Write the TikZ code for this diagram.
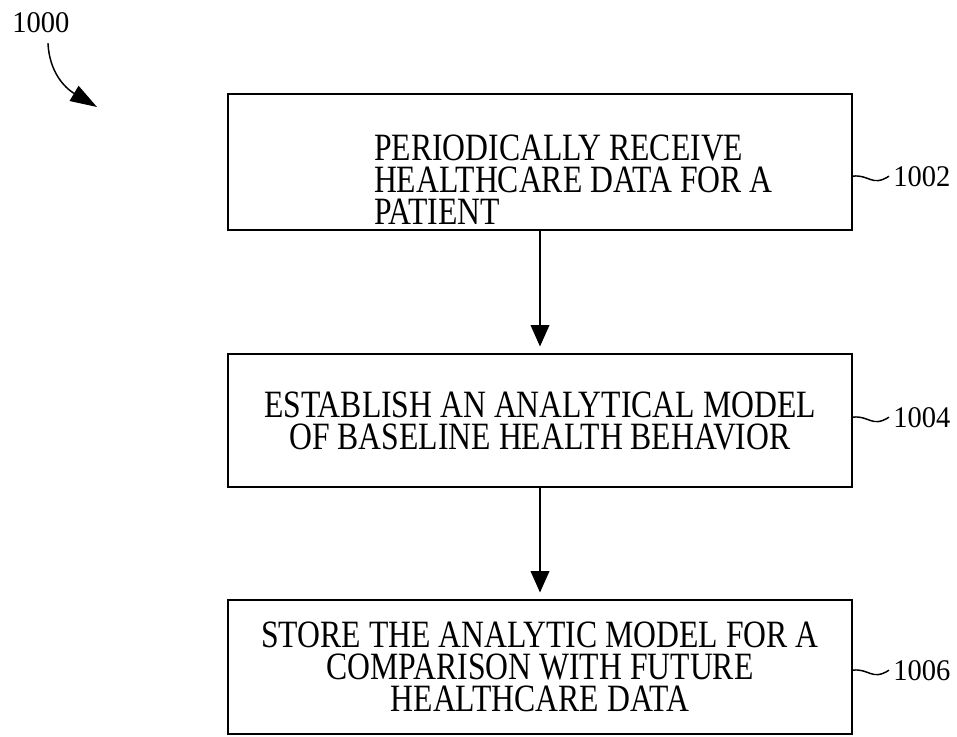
\documentclass[tikz,border=0pt]{standalone}
\usepackage{fontspec}
\setmainfont[FakeStretch=0.82]{Liberation Serif}
\newfontfamily\refnumfont[FakeStretch=0.95]{Liberation Serif}
\usetikzlibrary{arrows.meta,calc}
\usetikzlibrary{positioning}

\tikzset{
  stepbox/.style={draw, line width=1.3pt, minimum width=468pt, inner sep=0pt,
    font=\fontsize{29}{24}\selectfont},
  flow/.style={-{Triangle[length=16pt,width=14pt]}, line width=1.1pt, shorten >=5pt},
  leadarrow/.style={-{Triangle[length=20pt,width=13pt]}, line width=1.1pt, shorten <=8pt},
  refnum/.style={inner sep=0pt, anchor=base west, font=\refnumfont\fontsize{22.5}{24}\selectfont},
  tilde/.style={line width=1.1pt}
}

\begin{document}
\begin{tikzpicture}[x=0.75pt,y=-0.75pt]
            \useasboundingbox (0,0) rectangle (957,736);

            \node[stepbox] (b1) at (540,162)
              {\parbox[c][102pt][t]{468pt}{\vspace*{30.75pt}\leftskip=109.5pt
               PERIODICALLY RECEIVE\\ HEALTHCARE DATA FOR A\\ PATIENT}};
            \node[stepbox, align=center, minimum height=99.75pt] (b2) at (540,420.5)
              {ESTABLISH AN ANALYTICAL MODEL\\ OF BASELINE HEALTH BEHAVIOR};
            \node[stepbox, align=center, minimum height=100.5pt] (b3) at (540,667)
              {STORE THE ANALYTIC MODEL FOR A\\ COMPARISON WITH FUTURE\\ HEALTHCARE DATA};

            \draw[flow] (b1) -- (b2);
            \draw[flow] (b2) -- (b3);

            \node[refnum] (n1002) at (893,186) {1002};
            \node[refnum] (n1004) at (893,427) {1004};
            \node[refnum] (n1006) at (893,680) {1006};
            \draw[tilde] (b1.east |- n1002.west) .. controls +(16,-2) and +(-17,11) .. ([xshift=-3pt]n1002.west);
            \draw[tilde] (b2.east |- n1004.west) .. controls +(16,-2) and +(-17,11) .. ([xshift=-3pt]n1004.west);
            \draw[tilde] (b3.east |- n1006.west) .. controls +(16,-2) and +(-17,11) .. ([xshift=-3pt]n1006.west);

            \node[refnum] (n1000) at (12,32) {1000};
            \coordinate (t1000) at (97,107);
            \draw[leadarrow] ([xshift=5pt]n1000.south) .. controls +(2,40) and +(-32,-19) .. (t1000);
        \end{tikzpicture}
\end{document}
